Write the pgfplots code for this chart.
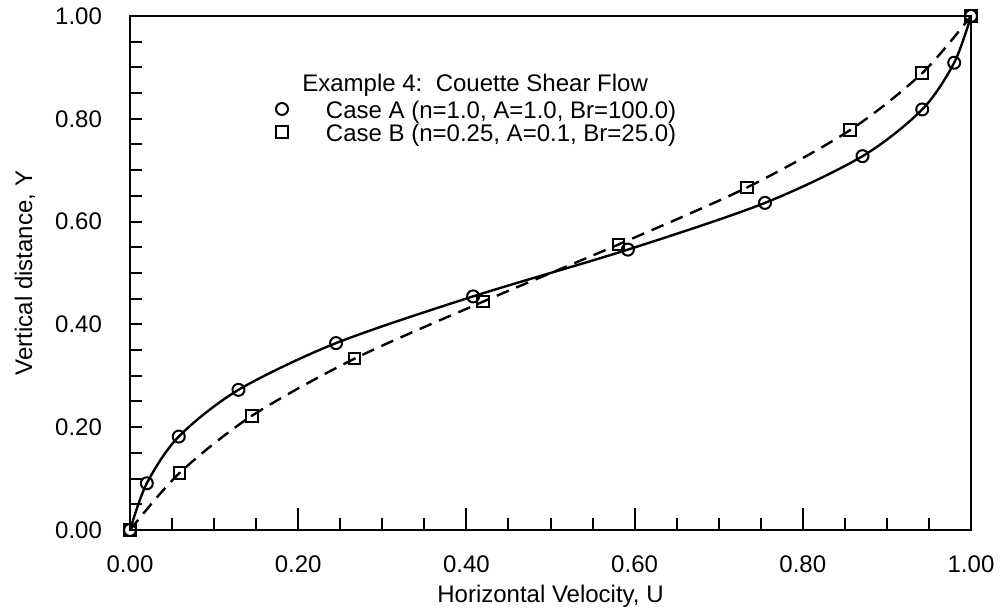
\documentclass[border=0pt]{standalone}
\usepackage{pgfplots}
\pgfplotsset{compat=1.18}
\usepackage{pgfplotstable}
\usepackage{fontspec}
\setmainfont{Liberation Sans}
\newcommand\lf{\fontsize{12}{14}\selectfont}

\pgfplotstableread{
U Y
0.000 0.0000
0.020 0.0909
0.058 0.1818
0.129 0.2727
0.245 0.3636
0.408 0.4545
0.592 0.5455
0.755 0.6364
0.871 0.7273
0.942 0.8182
0.980 0.9091
1.000 1.0000
}\caseA
\pgfplotstableread{
U Y
0.000 0.0000
0.059 0.1111
0.145 0.2222
0.267 0.3333
0.420 0.4444
0.581 0.5556
0.734 0.6667
0.856 0.7778
0.942 0.8889
1.000 1.0000
}\caseB

\begin{document}
\begin{tikzpicture}
\begin{axis}[
  scale only axis, width=420.5pt, height=257pt,
  xmin=0, xmax=1, ymin=0, ymax=1,
  axis line style={line width=1.1pt},
  tick align=inside, xtick pos=left, ytick pos=left,
  xtick={0,0.2,0.4,0.6,0.8,1},
  xticklabels={0.00,0.20,0.40,0.60,0.80,1.00},
  ytick={0,0.2,0.4,0.6,0.8,1},
  yticklabels={0.00,0.20,0.40,0.60,0.80,1.00},
  minor x tick num=3, minor y tick num=3,
  major tick length=6pt, minor tick length=6pt,
  tick style={line width=1pt, black},
  extra x ticks={0.2,0.4,0.6,0.8}, extra x tick labels={},
  extra x tick style={major tick length=11pt},
  /pgf/number format/assume math mode=true,
  tick label style={font=\lf},
  xticklabel style={yshift=-9.5pt},
  yticklabel style={xshift=-10.5pt},
  xlabel={Horizontal Velocity, U},
  ylabel={Vertical distance, Y},
  label style={font=\lf},
  xlabel style={at={(rel axis cs:0.5,0)}, anchor=center, yshift=-33pt},
  ylabel style={at={(rel axis cs:0,0.5)}, anchor=center, yshift=52.5pt},
  legend cell align=left,
  legend image code/.code={%
    \draw[#1] plot coordinates {(0pt,2pt)};
    \path[draw=none] (-3pt,2pt) -- (22pt,2pt);},
  legend style={draw=none, fill=none, inner sep=0pt, outer sep=0pt,
    at={(axis cs:0.1736,0.8337)}, anchor=north west, font=\lf,
    row sep=0pt, column sep=0pt,
    nodes={inner xsep=0pt, inner ysep=0pt, text height=8.5pt, text depth=3pt}},
]
\addplot[black, line width=1.2pt, smooth, forget plot] table[x=U,y=Y]{\caseA};
\addplot[black, line width=1.2pt, smooth, dash pattern=on 6.5pt off 4pt, forget plot] table[x=U,y=Y]{\caseB};
\addplot[black, only marks, mark=o, mark size=3pt, mark options={line width=1pt, fill=white}] table[x=U,y=Y]{\caseA};
\addplot[black, only marks, mark=square, mark size=2.9pt, mark options={line width=1pt, fill=white}] table[x=U,y=Y]{\caseB};
\addplot[black, only marks, mark=*, mark size=0.45pt, forget plot] table[x=U,y=Y]{\caseB};
\legend{Case A (n=1.0{,} A=1.0{,} Br=100.0), Case B (n=0.25{,} A=0.1{,} Br=25.0)}
\node[anchor=base west, inner sep=0pt, font=\lf] at (axis cs:0.2045,0.8531) {Example 4:\ \ Couette Shear Flow};
\coordinate (SW) at (rel axis cs:0,0);
\coordinate (NE) at (rel axis cs:1,1);
\end{axis}
\pgfresetboundingbox
\path ([xshift=-65pt,yshift=-39.5pt]SW) rectangle ([xshift=15pt,yshift=8pt]NE);
\end{tikzpicture}
\end{document}
